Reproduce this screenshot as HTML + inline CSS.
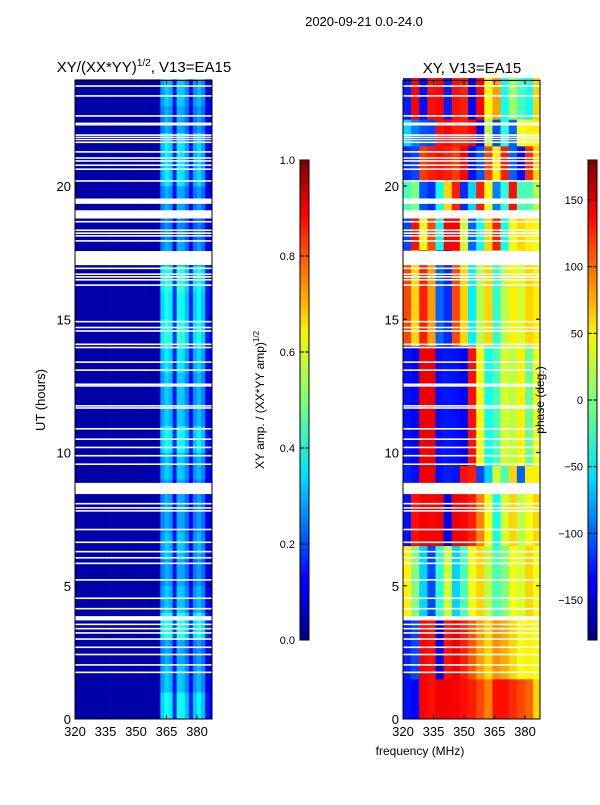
<!DOCTYPE html>
<html><head><meta charset="utf-8"><style>
body{margin:0;background:#fff;font-family:"Liberation Sans",sans-serif;}
svg text{font-family:"Liberation Sans",sans-serif;fill:#000;}
</style></head><body>
<svg id="fig" width="600" height="800" xmlns="http://www.w3.org/2000/svg">
<rect width="600" height="800" fill="#fff"/>
<text x="364" y="26" font-size="13" text-anchor="middle">2020-09-21 0.0-24.0</text>
<text x="144" y="72" font-size="15" text-anchor="middle">XY/(XX*YY)<tspan font-size="10" dy="-6">1/2</tspan><tspan dy="6">, V13=EA15</tspan></text>
<text x="472" y="73" font-size="15" text-anchor="middle">XY, V13=EA15</text>
<text x="420" y="755" font-size="12" text-anchor="middle">frequency (MHz)</text>
<text transform="translate(45,400) rotate(-90)" font-size="13" text-anchor="middle">UT (hours)</text>
<text transform="translate(264,400) rotate(-90)" font-size="12" text-anchor="middle">XY amp. / (XX*YY amp)<tspan font-size="8" dy="-5">1/2</tspan></text>
<g id="left"></g>
<g id="right"></g>
<g id="axes"></g>
<text transform="translate(544,400) rotate(-90)" font-size="12" text-anchor="middle">phase (deg.)</text>
<defs>
<linearGradient id="jet" x1="0" y1="1" x2="0" y2="0">
<stop offset="0" stop-color="#00007f"/><stop offset="0.11" stop-color="#0000ff"/><stop offset="0.125" stop-color="#0000ff"/><stop offset="0.34" stop-color="#00dcff"/><stop offset="0.35" stop-color="#00e5f8"/><stop offset="0.5" stop-color="#7cff79"/><stop offset="0.64" stop-color="#f8f500"/><stop offset="0.66" stop-color="#ffde00"/><stop offset="0.89" stop-color="#ff0000"/><stop offset="1" stop-color="#7f0000"/>
</linearGradient></defs>
<rect x="300" y="160" width="9" height="480" fill="url(#jet)" stroke="#000" stroke-width="1"/>
<rect x="588" y="160" width="9" height="480" fill="url(#jet)" stroke="#000" stroke-width="1"/>
<g id="cb"></g>
</svg>
<script>
const gaps=[[23.72,23.78],[23.35,23.41],[22.6,22.66],[22.27,22.38],[21.88,21.94],[21.8,21.85],[21.72,21.77],[21.61,21.67],[21.25,21.31],[21.02,21.08],[20.91,20.97],[20.75,20.81],[20.6,20.66],[20.16,20.22],[19.33,19.53],[18.78,19.09],[18.63,18.69],[18.31,18.37],[18.2,18.26],[18.1,18.16],[17.91,17.97],[17.03,17.56],[16.88,16.94],[16.66,16.72],[16.56,16.62],[16.45,16.51],[16.25,16.31],[14.88,14.94],[14.66,14.72],[14.53,14.59],[14.03,14.09],[13.91,13.97],[13.36,13.42],[13.06,13.12],[12.53,12.59],[12.47,12.53],[11.72,11.78],[11.64,11.7],[10.86,10.92],[10.47,10.53],[10.16,10.22],[9.85,9.91],[9.53,9.59],[8.44,8.86],[8.05,8.11],[7.89,7.95],[7.78,7.84],[7.08,7.14],[6.6,6.66],[6.25,6.31],[6.02,6.08],[5.81,5.87],[5.19,5.25],[4.5,4.56],[4.11,4.17],[3.7,3.86],[3.52,3.58],[3.36,3.42],[3.2,3.26],[2.97,3.03],[2.66,2.72],[2.39,2.45],[2.0,2.06],[1.72,1.78]];
const ampProfile=[0.04,0.04,0.04,0.04,0.04,0.04,0.04,0.04,0.04,0.04,0.04,0.04,0.04,0.04,0.04,0.04,0.04,0.04,0.04,0.04,0.05,0.28,0.33,0.3,0.14,0.33,0.32,0.26,0.13,0.27,0.31,0.26,0.12,0.1];
const ampHourScale=[1.2,1.0,0.9,1.3,1.0,0.9,1.0,0.9,0.9,1.0,1.2,1.0,1.0,1.1,1.3,1.2,1.3,0.9,0.8,0.9,1.1,1.1,0.9,1.0];
const segStarts=[0,1.5,3.8,6.5,8.5,9.5,14,17.6,19,20.2,21.5,22.5];
const phaseProfiles=[
[-130,-135,135,130,140,140,135,130,125,110,90,130,130,120,110,100,60],
[-125,-110,135,130,-140,130,140,125,105,80,60,85,75,60,40,50,40],
[50,0,-60,-110,-30,30,-60,-20,40,60,20,-20,0,40,30,60,40],
[-130,130,140,135,140,-140,140,135,125,90,40,-40,30,60,20,40,60],
[-125,-130,140,140,-130,-125,-130,130,125,-110,-60,30,-20,60,-100,50,50],
[-130,-135,140,140,-130,-128,-130,-135,130,40,-40,-20,30,20,50,-10,40],
[110,60,125,80,-100,-120,110,60,-50,20,60,-30,20,50,30,60,50],
[-110,130,40,110,-40,135,135,30,-100,-40,60,125,-40,40,60,50,40],
[-20,0,-105,-120,-40,60,125,-120,-60,125,40,-90,-30,130,-20,-20,20],
[-120,-110,115,125,130,125,115,135,-130,-105,110,50,125,-100,-130,120,60],
[-60,-90,-105,-110,130,135,125,125,135,-135,20,-110,-30,-100,40,50,50],
[-125,135,-130,130,135,-125,130,125,-135,135,40,80,-40,10,-20,-40,60]];
const xTicks=[320,335,350,365,380];
const yTicks=[0,5,10,15,20];
const ampTicks=[0,0.2,0.4,0.6,0.8,1.0];
const phaseTicks=[-150,-100,-50,0,50,100,150];

const NS="http://www.w3.org/2000/svg";
function jet(v){v=Math.max(0,Math.min(1,v));
 const r=Math.min(4*v-1.5,-4*v+4.5),g=Math.min(4*v-0.5,-4*v+3.5),b=Math.min(4*v+0.5,-4*v+2.5);
 const c=x=>Math.round(255*Math.max(0,Math.min(1,x)));return `rgb(${c(r)},${c(g)},${c(b)})`;}
function mk(tag,attrs,parent){const e=document.createElementNS(NS,tag);for(const k in attrs)e.setAttribute(k,attrs[k]);parent.appendChild(e);return e;}
const Y=h=>719-h*26.65;
function X(f,x0){return x0+(f-320)*2.033;}
const panels=[75,403];
const PW=137;
const L=document.getElementById('left');
for(let h=0;h<24;h++){
 for(let i=0;i<ampProfile.length;i++){
  const f0=320+i*2;const x=X(f0,75);const w=Math.min(2.033*2,75+PW-x);if(w<=0)continue;
  const v=i<21?ampProfile[i]:ampProfile[i]*ampHourScale[h];
  const r=mk('rect',{x:x,y:Y(h+1),width:w+0.3,height:26.95,fill:jet(v)},L);
  
  
 }
}
const R=document.getElementById('right');
for(let s=0;s<segStarts.length;s++){
 const t0=segStarts[s],t1=s+1<segStarts.length?segStarts[s+1]:24.05;
 phaseProfiles[s].forEach((p,i)=>{
  const x=X(320+i*4,403);const w=Math.min(2.033*4,403+PW-x);if(w<=0)return;
  const r=mk('rect',{x:x,y:Y(t1),width:w+0.3,height:Y(t0)-Y(t1)+0.3,fill:jet((p+180)/360)},R);
  
  
 });
}
[L,R].forEach((g,k)=>{gaps.forEach(gp=>{
 const r=mk('rect',{x:panels[k],y:Y(gp[1]),width:PW,height:Math.max(1.2,Y(gp[0])-Y(gp[1])),fill:'#fff'},g);
 
 
});});
const A=document.getElementById('axes');
panels.forEach((x0,k)=>{
 const fr=mk('rect',{x:x0,y:80.4,width:PW,height:638.6,fill:'none',stroke:'#000','stroke-width':1},A);
 
 
 xTicks.forEach(t=>{const x=X(t,x0);
  mk('line',{x1:x,x2:x,y1:719,y2:715,stroke:'#000'},A);mk('line',{x1:x,x2:x,y1:80.4,y2:84.4,stroke:'#000'},A);
  const tx=mk('text',{x:x,y:736,'font-size':13,'text-anchor':'middle'},A);tx.textContent=t;
  
  });
 yTicks.forEach(t=>{const y=Y(t);
  mk('line',{x1:x0,x2:x0+4,y1:y,y2:y,stroke:'#000'},A);mk('line',{x1:x0+PW,x2:x0+PW-4,y1:y,y2:y,stroke:'#000'},A);
  const tx=mk('text',{x:x0-4,y:y+5,'font-size':13,'text-anchor':'end'},A);tx.textContent=t;
  
  });
});
const C=document.getElementById('cb');
ampTicks.forEach(t=>{const y=640-t*480;
 mk('line',{x1:300,x2:304,y1:y,y2:y,stroke:'#000'},C);mk('line',{x1:305,x2:309,y1:y,y2:y,stroke:'#000'},C);
 const tx=mk('text',{x:295,y:y+4,'font-size':11,'text-anchor':'end'},C);tx.textContent=t.toFixed(1);
 
 });
phaseTicks.forEach(t=>{const y=400-t*480/360;
 mk('line',{x1:588,x2:592,y1:y,y2:y,stroke:'#000'},C);mk('line',{x1:593,x2:597,y1:y,y2:y,stroke:'#000'},C);
 const tx=mk('text',{x:583,y:y+4,'font-size':11,'text-anchor':'end'},C);tx.textContent=t<0?'\u2212'+(-t):t;
 
 });
</script>
</body></html>
